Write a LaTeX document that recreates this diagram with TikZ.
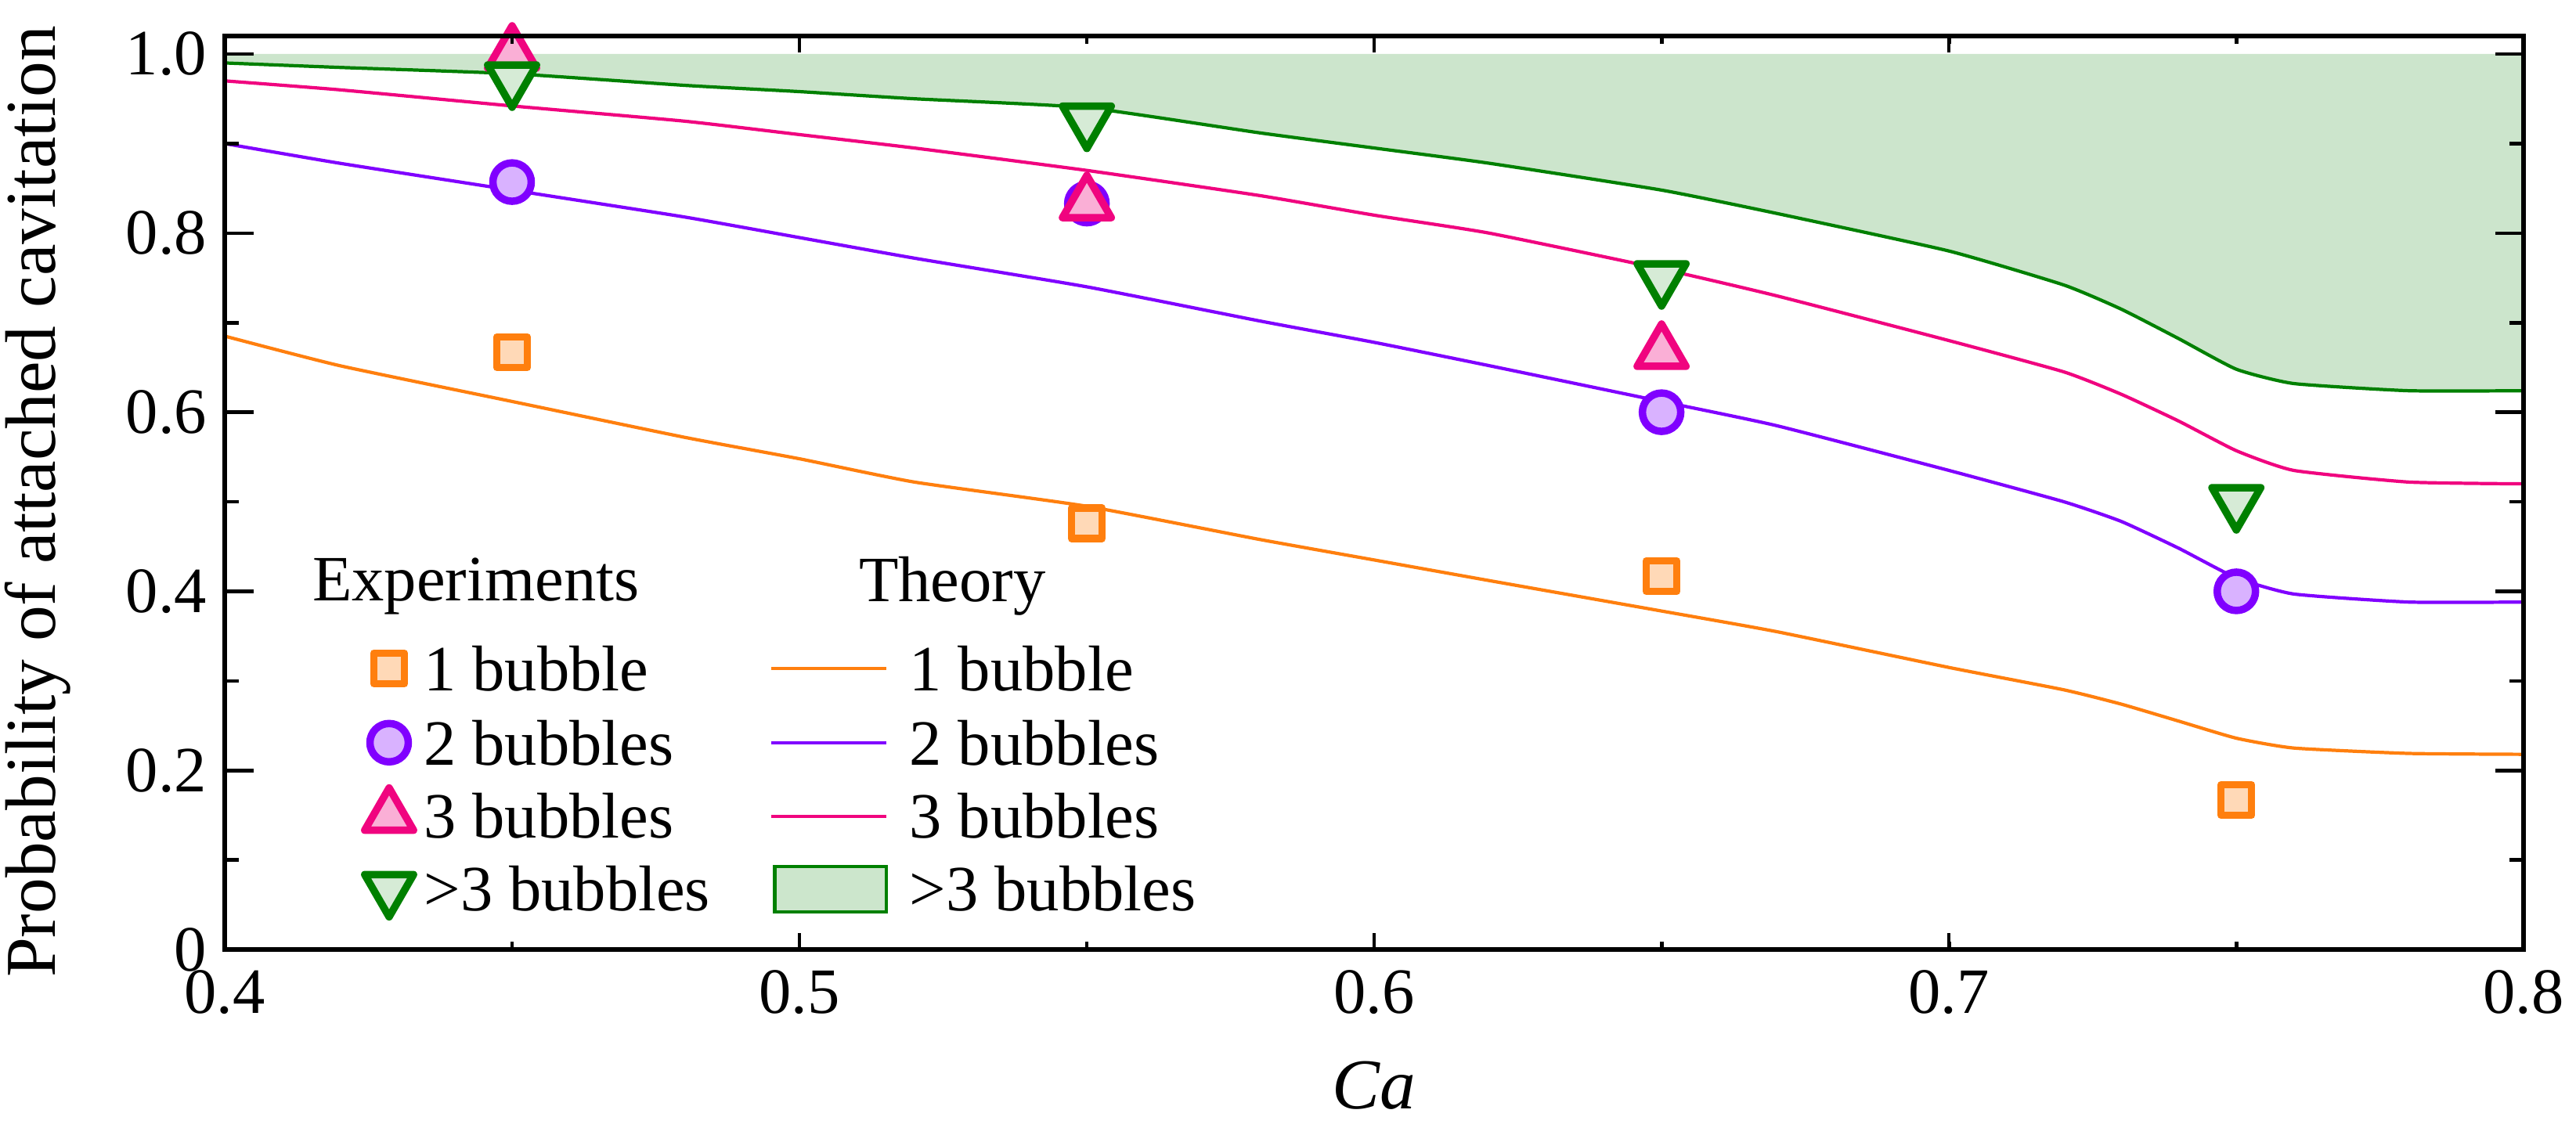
\documentclass[tikz,border=0pt]{standalone}
\usepackage{fontspec}
\setmainfont{Liberation Serif}
\usetikzlibrary{positioning,shapes.geometric}

\definecolor{cOne}{HTML}{FF7F0E}
\definecolor{cTwo}{HTML}{8000FF}
\definecolor{cThree}{HTML}{F0047F}
\definecolor{cFour}{HTML}{008000}

\begin{document}
\begin{tikzpicture}[
  x=73.4cm, y=11.44cm, xshift=-29.36cm,
  every node/.style={font=\fontsize{23.5}{26}\selectfont},
  mk/.style={draw, line width=2.7pt, inner sep=0pt, line join=round},
  sq/.style={mk, rectangle, minimum size=3.9mm, draw=cOne, fill=cOne!30},
  ci/.style={mk, circle, minimum size=4.9mm, draw=cTwo, fill=cTwo!30},
  tu/.style={mk, regular polygon, regular polygon sides=3, minimum size=7.2mm, draw=cThree, fill=cThree!32},
  td/.style={tu, shape border rotate=180, draw=cFour, fill=cFour!16},
  th/.style={line width=1.2pt}
]
\useasboundingbox (0.3609,-0.2063) rectangle (0.8091,1.0603);

% -----------------------
% Theory curves
% -----------------------
\def\curveFour{(0.4,0.99) (0.42,0.985) (0.45,0.978) (0.48,0.965) (0.5,0.958) (0.52,0.95) (0.55,0.94) (0.58,0.912) (0.6,0.895) (0.62,0.878) (0.65,0.848) (0.67,0.822) (0.7,0.78) (0.72,0.742) (0.73,0.715) (0.74,0.682) (0.75,0.648) (0.76,0.632) (0.78,0.624) (0.8,0.624)}
\fill[cFour!20] plot[smooth, tension=0.3] coordinates {\curveFour} -- (0.8,1) -- (0.4,1) -- cycle;
\draw[th, cFour] plot[smooth, tension=0.3] coordinates {\curveFour};
\draw[th, cThree] plot[smooth, tension=0.3] coordinates {(0.4,0.97) (0.42,0.96) (0.45,0.942) (0.48,0.925) (0.5,0.91) (0.52,0.895) (0.55,0.87) (0.58,0.842) (0.6,0.82) (0.62,0.8) (0.65,0.76) (0.67,0.73) (0.7,0.68) (0.72,0.645) (0.73,0.62) (0.74,0.59) (0.75,0.557) (0.76,0.535) (0.78,0.522) (0.8,0.52)};
\draw[th, cTwo] plot[smooth, tension=0.3] coordinates {(0.4,0.9) (0.42,0.878) (0.45,0.848) (0.48,0.818) (0.5,0.795) (0.52,0.772) (0.55,0.74) (0.58,0.702) (0.6,0.678) (0.62,0.652) (0.65,0.612) (0.67,0.585) (0.7,0.535) (0.72,0.5) (0.73,0.478) (0.74,0.448) (0.75,0.415) (0.76,0.397) (0.78,0.388) (0.8,0.388)};
\draw[th, cOne] plot[smooth, tension=0.3] coordinates {(0.4,0.685) (0.42,0.652) (0.45,0.612) (0.48,0.572) (0.5,0.548) (0.52,0.522) (0.55,0.495) (0.58,0.458) (0.6,0.435) (0.62,0.412) (0.65,0.378) (0.67,0.355) (0.7,0.315) (0.72,0.29) (0.73,0.274) (0.74,0.255) (0.75,0.236) (0.76,0.225) (0.78,0.219) (0.8,0.218)};

% -----------------------
% Experiments
% -----------------------
\node[sq] (s1) at (0.45,0.667) {};
\node[sq] (s2) at (0.55,0.476) {};
\node[sq] (s3) at (0.65,0.417) {};
\node[sq] (s4) at (0.75,0.167) {};
\node[ci] (c1) at (0.45,0.857) {};
\node[ci] (c2) at (0.55,0.833) {};
\node[ci] (c3) at (0.65,0.600) {};
\node[ci] (c4) at (0.75,0.400) {};
\node[tu] (u1) at (0.45,1.0) {};
\node[tu] (u2) at (0.55,0.833) {};
\node[tu] (u3) at (0.65,0.667) {};
\node[td] (d1) at (0.45,0.972) {};
\node[td] (d2) at (0.55,0.926) {};
\node[td] (d3) at (0.65,0.750) {};
\node[td] (d4) at (0.75,0.500) {};

% -----------------------
% Axes
% -----------------------
\foreach \xv in {0.4,0.45,...,0.81} {
  \draw[line width=1.3pt] (\xv,0) -- ++(0,0.009) (\xv,1.02) -- ++(0,-0.009);
}
\foreach \xv in {0.4,0.5,0.6,0.7,0.8} {
  \draw[line width=1.3pt] (\xv,0) -- ++(0,0.018) (\xv,1.02) -- ++(0,-0.018);
  \node[below=4pt] (xl\xv) at (\xv,0) {\xv};
}
\foreach \yv in {0.1,0.3,0.5,0.7,0.9} {
  \draw[line width=1.3pt] (0.4,\yv) -- ++(0.0025,0) (0.8,\yv) -- ++(-0.0025,0);
}
\foreach \yv in {0.2,0.4,0.6,0.8,1.0} {
  \draw[line width=1.3pt] (0.4,\yv) -- ++(0.005,0) (0.8,\yv) -- ++(-0.005,0);
  \node[left=3pt] (yl\yv) at (0.4,\yv) {\yv};
}
\node[left=3pt] (yl0) at (0.4,0) {0};
\draw[line width=1.8pt] (0.4,0) rectangle (0.8,1.02);

\node (xlab) at (0.6,-0.152) {\fontsize{26}{28}\selectfont\itshape Ca};
\node[rotate=90] (ylab) at (0.3675,0.5) {\fontsize{26}{28}\selectfont Probability of attached cavitation};

% -----------------------
% Legend
% -----------------------
\node (hExp) at (0.4437,0.4055) {Experiments};
\node (hThe) at (0.5266,0.4055) {Theory};
\node[sq] (ls1) at (0.4286,0.314) {};
\node[ci] (ls2) at (0.4286,0.231) {};
\node[tu] (ls3) at (0.4286,0.149) {};
\node[td] (ls4) at (0.4286,0.068) {};
\node[anchor=west] (le1) at (0.4330,0.314) {1 bubble};
\node[anchor=west] (le2) at (0.4330,0.231) {2 bubbles};
\node[anchor=west] (le3) at (0.4330,0.149) {3 bubbles};
\node[anchor=west] (le4) at (0.4330,0.068) {>3 bubbles};
\draw[th, cOne] (0.4951,0.314) -- (0.5151,0.314);
\draw[th, cTwo] (0.4951,0.231) -- (0.5151,0.231);
\draw[th, cThree] (0.4951,0.149) -- (0.5151,0.149);
\draw[th, cFour, fill=cFour!20] (0.4957,0.042) rectangle (0.5151,0.093);
\node[anchor=west] (lt1) at (0.5175,0.314) {1 bubble};
\node[anchor=west] (lt2) at (0.5175,0.231) {2 bubbles};
\node[anchor=west] (lt3) at (0.5175,0.149) {3 bubbles};
\node[anchor=west] (lt4) at (0.5175,0.068) {>3 bubbles};
\end{tikzpicture}
\end{document}
